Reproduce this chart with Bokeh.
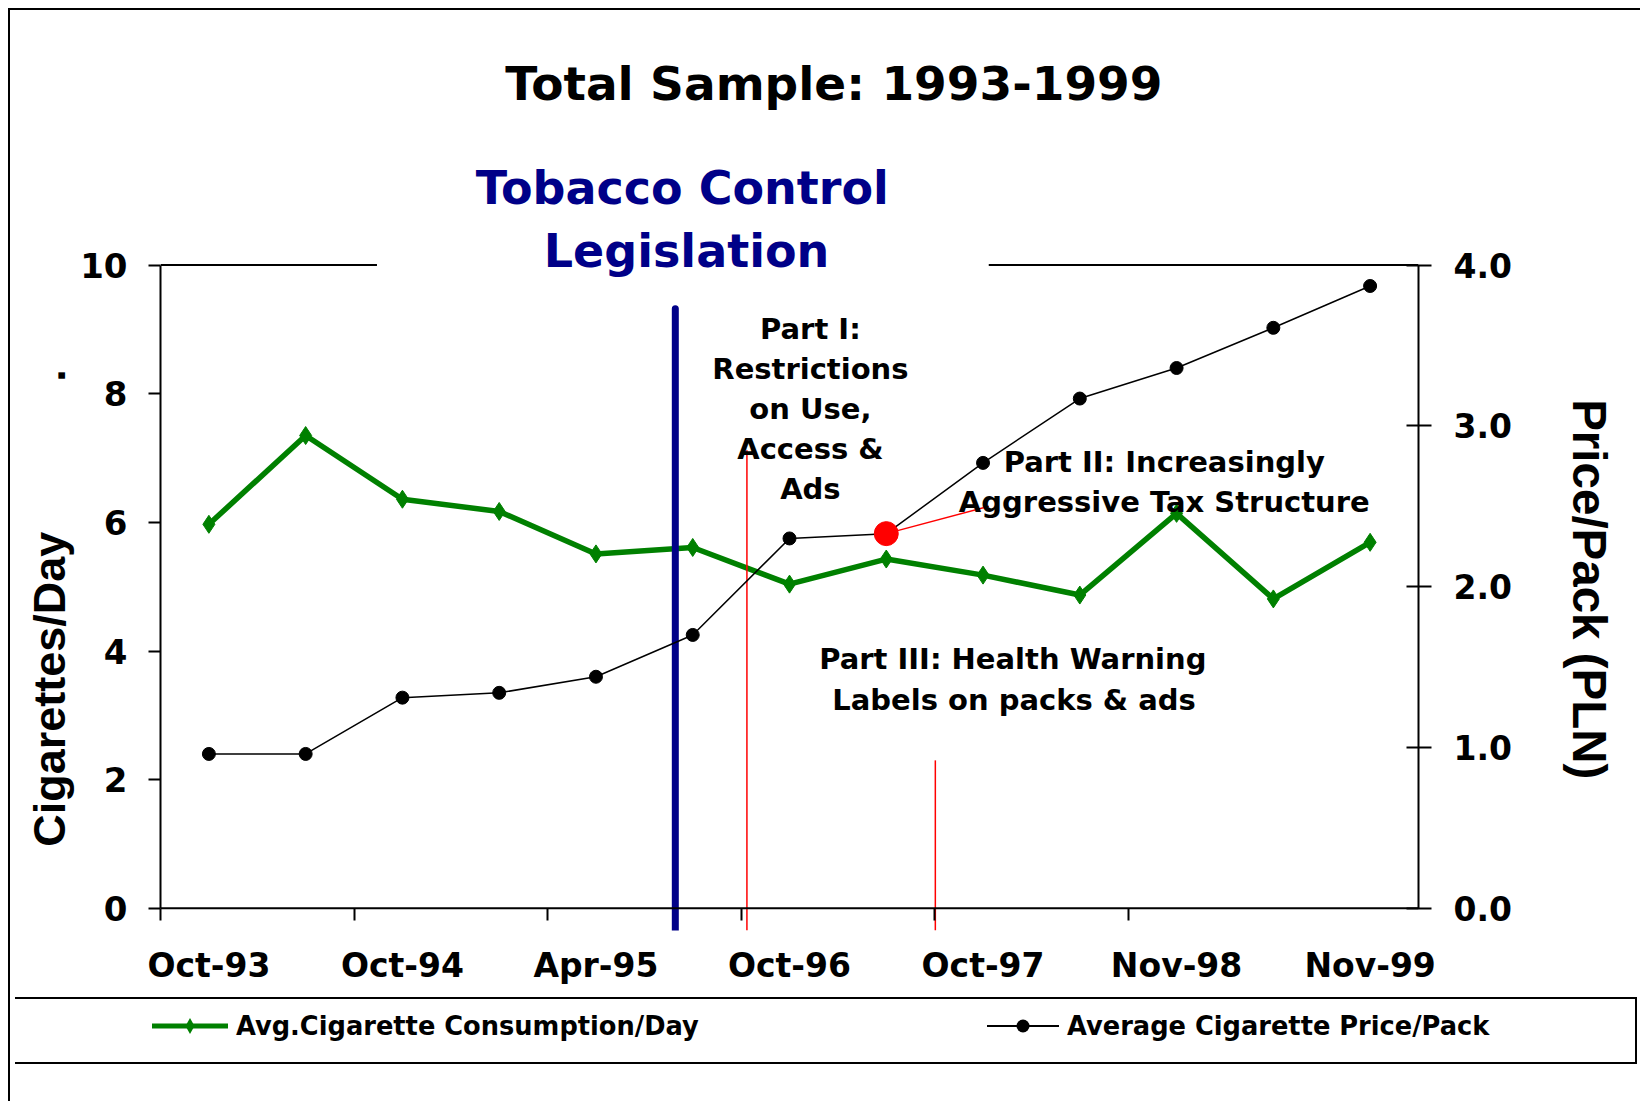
from bokeh.plotting import figure
from bokeh.models import (Range1d, LinearAxis, FixedTicker, PrintfTickFormatter, Label,
                          Span, Div, Spacer)
from bokeh.layouts import column
from bokeh.embed import file_html
from bokeh.resources import INLINE

# ---------------- data ----------------
wave = list(range(13))
tick_positions = [0, 2, 4, 6, 8, 10, 12]
tick_labels = ["Oct-93", "Oct-94", "Apr-95", "Oct-96", "Oct-97", "Nov-98", "Nov-99"]
consumption = [5.97, 7.35, 6.36, 6.17, 5.51, 5.61, 5.04, 5.43, 5.18, 4.87, 6.14, 4.81, 5.69]
price = [0.96, 0.96, 1.31, 1.34, 1.44, 1.70, 2.30, 2.33, 2.77, 3.17, 3.36, 3.61, 3.87]
series_names = ["Avg.Cigarette Consumption/Day", "Average Cigarette Price/Pack"]
left_ticks = [0, 2, 4, 6, 8, 10]
right_ticks = [0, 1, 2, 3, 4]
highlight_index = 7

FONT = "DejaVu Sans"
ARIAL = "Liberation Sans"
GREEN = "#008000"
NAVY = "#000088"
RED = "#ff0000"
NBSP = "\u00a0"

Y0, Y1 = -0.345, 13.958
p = figure(width=1622, height=982, output_backend="svg", toolbar_location=None, title=None,
           x_range=Range1d(-0.5, 12.5), y_range=Range1d(Y0, Y1),
           min_border_left=150, min_border_right=214, min_border_top=0,
           min_border_bottom=62)
p.extra_y_ranges = {"price": Range1d(Y0 * 0.4, Y1 * 0.4)}
p.outline_line_color = None
p.grid.visible = False
p.background_fill_color = "white"
p.border_fill_color = "white"

# x axis (labels at survey waves, tick marks between groups of waves)
xa = p.xaxis[0]
xa.ticker = FixedTicker(ticks=tick_positions,
                        minor_ticks=[t - 0.5 for t in tick_positions[:-1]])
xa.major_label_overrides = dict(zip(tick_positions, tick_labels))
xa.axis_line_color = None
xa.major_tick_out = 0
xa.major_tick_in = 0
xa.minor_tick_in = 22
xa.minor_tick_out = -10
xa.minor_tick_line_width = 2
xa.minor_tick_line_color = "black"
xa.major_label_standoff = 15
xa.major_label_text_font = FONT
xa.major_label_text_font_style = "bold"
xa.major_label_text_font_size = "33px"
xa.major_label_text_color = "black"
p.add_layout(Span(location=0, dimension="width", line_color="black", line_width=2))

# left axis
ya = p.yaxis[0]
ya.ticker = FixedTicker(ticks=left_ticks)
ya.bounds = (0, 10)
ya.axis_line_width = 2
ya.major_tick_out = 12
ya.major_tick_in = 0
ya.major_tick_line_width = 2
ya.minor_tick_line_color = None
ya.major_label_standoff = 21
ya.major_label_text_font = FONT
ya.major_label_text_font_style = "bold"
ya.major_label_text_font_size = "34px"
ya.major_label_text_color = "black"
ya.axis_label = "Cigarettes/Day" + NBSP * 12 + "." + NBSP * 22
ya.axis_label_text_font = ARIAL
ya.axis_label_text_font_style = "bold"
ya.axis_label_text_font_size = "45px"
ya.axis_label_text_color = "black"
ya.axis_label_standoff = 2

# right axis
ra = LinearAxis(y_range_name="price", ticker=FixedTicker(ticks=right_ticks),
                formatter=PrintfTickFormatter(format="%.1f"), bounds=(0, 4))
ra.axis_line_width = 2
ra.major_tick_in = 12
ra.major_tick_out = 13
ra.major_tick_line_width = 2
ra.minor_tick_line_color = None
ra.major_label_standoff = 22
ra.major_label_text_font = FONT
ra.major_label_text_font_style = "bold"
ra.major_label_text_font_size = "33px"
ra.major_label_text_color = "black"
ra.axis_label = NBSP * 18 + "Price/Pack (PLN)"
ra.axis_label_text_font = ARIAL
ra.axis_label_text_font_style = "bold"
ra.axis_label_text_font_size = "47.5px"
ra.axis_label_text_color = "black"
ra.axis_label_standoff = 48
p.add_layout(ra, "right")

# top border of plot area (interrupted by the legislation caption)
p.segment(x0=[-0.5, 8.059], y0=[10, 10], x1=[1.737, 12.5], y1=[10, 10],
          line_color="black", line_width=2)

# data series
p.line(wave, consumption, line_color=GREEN, line_width=5.5)
p.scatter(wave, consumption, marker="diamond", size=18, color=GREEN)

# legislation timeline markers
p.line([4.82, 4.82], [9.32, Y0], line_color=NAVY, line_width=7, line_cap="round")
p.line([5.56, 5.56], [7.12, Y0], line_color=RED, line_width=1.5)
p.line([7.507, 7.507], [2.30, Y0], line_color=RED, line_width=1.5)

p.line(wave, price, y_range_name="price", line_color="black", line_width=1.5)
p.scatter(wave, price, y_range_name="price", size=13, color="black")
p.scatter([wave[highlight_index]], [price[highlight_index]], y_range_name="price",
          size=24, color=RED)
p.line([wave[highlight_index], 8.06], [price[highlight_index], 2.50], y_range_name="price",
       line_color=RED, line_width=1.5)


def add_text(x, y, text, size, color="black", font=FONT):
    p.add_layout(Label(x=x, y=y, text=text, text_font=font, text_font_size=f"{size}px",
                       text_font_style="bold", text_color=color, text_align="center",
                       text_baseline="alphabetic"))


add_text(6.459, 12.821, "Total Sample: 1993-1999", 47)
add_text(4.892, 11.195, "Tobacco Control", 46, color=NAVY)
add_text(4.936, 10.212, "Legislation", 46, color=NAVY)
for txt, yy in zip(["Part I:", "Restrictions", "on Use,", "Access &", "Ads"],
                   [9.001, 8.382, 7.763, 7.145, 6.526]):
    add_text(6.216, yy, txt, 29)
add_text(9.873, 6.943, "Part II: Increasingly", 29)
add_text(9.873, 6.313, "Aggressive Tax Structure", 29)
add_text(8.308, 3.877, "Part III: Health Warning", 29)
add_text(8.320, 3.236, "Labels on packs & ads", 29)

# ---------------- legend strip ----------------
legend_html = f"""
<div style="position:relative;width:1620px;height:63px;font-family:'DejaVu Sans';
 font-weight:bold;font-size:25.7px;color:black;">
  <svg style="position:absolute;left:137px;top:12px;" width="76" height="30">
    <line x1="0" y1="15" x2="76" y2="15" stroke="{GREEN}" stroke-width="5"/>
    <polygon points="38,7 42.5,15 38,23 33.5,15" fill="{GREEN}"/>
  </svg>
  <span style="position:absolute;left:221px;top:12px;line-height:30px;white-space:nowrap;">{series_names[0]}</span>
  <svg style="position:absolute;left:972px;top:12px;" width="72" height="30">
    <line x1="0" y1="15" x2="72" y2="15" stroke="black" stroke-width="2"/>
    <circle cx="36" cy="15" r="6.5" fill="black"/>
  </svg>
  <span style="position:absolute;left:1052px;top:12px;line-height:30px;white-space:nowrap;">{series_names[1]}</span>
</div>
"""
legend_div = Div(text=legend_html, width=1622, height=67,
                 styles={"border-top": "2px solid black", "border-right": "2px solid black",
                         "border-bottom": "2px solid black"})

sp = Spacer(width=10, height=36)

layout = column(p, legend_div, sp, width=1632, margin=(8, 0, 0, 8),
                styles={"border-left": "2px solid black", "border-top": "2px solid black"})

open("out.html", "w").write(file_html(layout, INLINE))
